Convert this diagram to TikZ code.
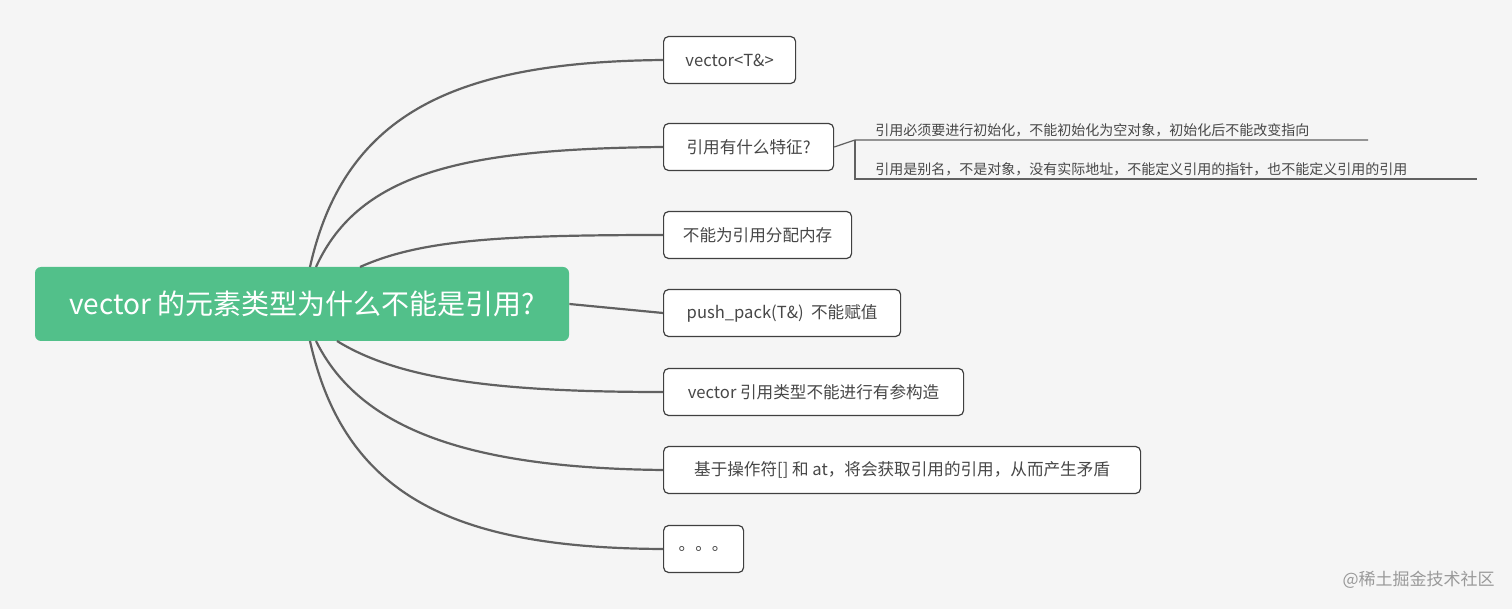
\documentclass[tikz,border=0pt]{standalone}
\usepackage{fontspec}
\setmainfont{Noto Sans CJK SC}
\begin{document}
\begin{tikzpicture}[x=0.5pt,y=-0.5pt,
  child/.style={draw=black!75,line width=0.6pt,rounded corners=2.5pt,fill=white,anchor=west,inner sep=0pt,minimum height=23.5pt,text=black!72,font=\fontsize{8.3pt}{10pt}\selectfont,align=left,inner xsep=6pt},
  conn/.style={draw=black!62,line width=1.1pt},
  sub/.style={anchor=south west,font=\fontsize{7pt}{8pt}\selectfont,text=black!72,inner sep=1pt}]
\fill[black!4] (0,0) rectangle (1512,609);
\useasboundingbox (0,0) rectangle (1512,609);
\node[fill={rgb,255:red,82;green,192;blue,138},rounded corners=3pt,minimum width=267pt,minimum height=37pt,text=white,font=\fontsize{14pt}{16pt}\selectfont,inner sep=0pt] (root) at (302,304) {vector 的元素类型为什么不能是引用?};
\node[child,minimum width=66pt] (c1) at (663,60) {vector<T\&>};
\node[child,minimum width=85pt] (c2) at (663,147) {引用有什么特征?};
\node[child,minimum width=94pt] (c3) at (663,235) {不能为引用分配内存};
\node[child,minimum width=118.5pt] (c4) at (663,313) {push\_pack(T\&)\ \ 不能赋值};
\node[child,minimum width=150pt] (c5) at (663,392) {vector 引用类型不能进行有参构造};
\node[child,minimum width=238.5pt] (c6) at (663,470) {基于操作符[] 和 at，将会获取引用的引用，从而产生矛盾};
\node[child,minimum width=40pt] (c7) at (663,549) {。。。};
\coordinate (t1) at (310,267); \coordinate (t2) at (316,267); \coordinate (t3) at (360,267);
\coordinate (b1) at (310,341); \coordinate (b2) at (316,341); \coordinate (b3) at (337,341);
\draw[conn] (t1) .. controls (345,110) and (460,62) .. (c1.west);
\draw[conn] (t2) .. controls (360,170) and (470,149) .. (c2.west);
\draw[conn] (t3) .. controls (420,240) and (500,235) .. (c3.west);
\draw[conn] (root.east) -- (c4.west);
\draw[conn] (b3) .. controls (400,380) and (500,392) .. (c5.west);
\draw[conn] (b2) .. controls (360,430) and (470,468) .. (c6.west);
\draw[conn] (b1) .. controls (345,500) and (460,548) .. (c7.west);
\coordinate (j) at (855,140);
\coordinate (e1) at (1368,140);
\coordinate (k) at (855,179);
\coordinate (e2) at (1477,179);
\draw[black!62,line width=0.6pt] (c2.east) -- (j) -- (e1);
\draw[black!62,line width=0.6pt] (j) -- (k) -- (e2);
\node[sub] (s1) at (873,139) {引用必须要进行初始化，不能初始化为空对象，初始化后不能改变指向};
\node[sub] (s2) at (873,178) {引用是别名，不是对象，没有实际地址，不能定义引用的指针，也不能定义引用的引用};
\node[anchor=east,text=black!40,font=\fontsize{8.5pt}{10pt}\selectfont,inner sep=0pt] (wm) at (1495,580) {@稀土掘金技术社区};
\end{tikzpicture}
\end{document}
